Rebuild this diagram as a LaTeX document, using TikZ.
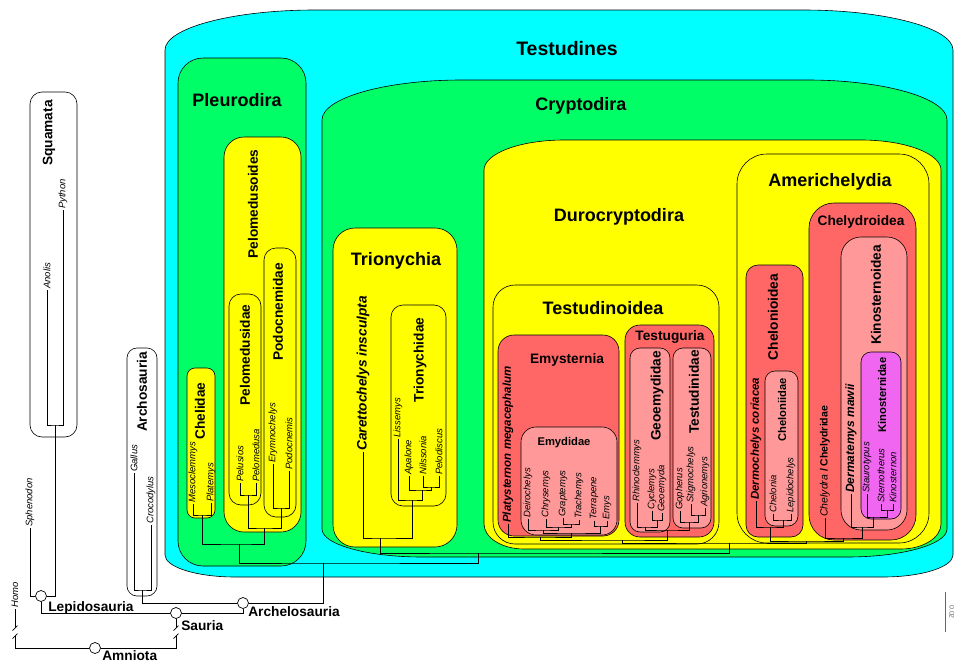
\documentclass[tikz,border=0pt]{standalone}
\usepackage{fontspec}
\setmainfont{Liberation Sans}
\usetikzlibrary{positioning}

\definecolor{testcyan}{RGB}{0,255,255}
\definecolor{cladegreen}{RGB}{0,255,102}
\definecolor{cladeyellow}{RGB}{255,255,0}
\definecolor{cladered}{RGB}{255,102,102}
\definecolor{cladepink}{RGB}{255,153,153}
\definecolor{clademagenta}{RGB}{240,102,240}

% box with elliptic corners: fill, x1, y1, x2, y2, rx ry (top), rx ry (bottom)
\newcommand\ovalclade[9]{%
  \draw[clade, fill=#1] (#2,{#3+#7}) .. controls (#2,{#3+0.45*#7}) and ({#2+0.45*#6},#3) .. ({#2+#6},#3)
    -- ({#4-#6},#3) .. controls ({#4-0.45*#6},#3) and (#4,{#3+0.45*#7}) .. (#4,{#3+#7})
    -- (#4,{#5-#9}) .. controls (#4,{#5-0.45*#9}) and ({#4-0.45*#8},#5) .. ({#4-#8},#5)
    -- ({#2+#8},#5) .. controls ({#2+0.45*#8},#5) and (#2,{#5-0.45*#9}) .. (#2,{#5-#9}) -- cycle;}
% broken branch
\newcommand\branchbreak[2]{%
  \fill[white] ({#1-3},{#2-4}) rectangle ({#1+3},{#2+4});
  \draw[branch] ({#1-2.5},{#2-1.5}) -- ({#1+2.5},{#2-6.5});
  \draw[branch] ({#1-2.5},{#2+6.5}) -- ({#1+2.5},{#2+1.5});}

\begin{document}
\begin{tikzpicture}[x=1pt, y=-1pt,
    clade/.style={draw=black, line width=0.6pt},
    branch/.style={draw=black, line width=0.7pt},
    hub/.style={circle, draw=black, fill=white, line width=0.7pt, minimum size=11pt, inner sep=0pt},
    big/.style={font=\fontsize{18}{20}\selectfont\bfseries},
    mid/.style={font=\fontsize{13.7}{15}\selectfont\bfseries},
    small/.style={font=\fontsize{11.2}{13}\selectfont\bfseries},
    vert/.style={rotate=90},
    tip/.style={font=\fontsize{9.5}{10}\selectfont\itshape, rotate=90, anchor=west, inner sep=1pt},
    taxon/.style={font=\fontsize{11.5}{13}\selectfont\bfseries\itshape, rotate=90, anchor=west, inner sep=1pt},
]
\useasboundingbox (0,0) rectangle (954,664);

% outgroups
\draw[clade, fill=white, rounded corners=12pt] (30,92) rectangle (77,437);
\draw[clade, fill=white, rounded corners=10pt] (127,348) rectangle (157,596);

% Testudines
\ovalclade{testcyan}{165}{10}{953}{577}{150}{40}{70}{22}
\draw[clade, fill=cladegreen, rounded corners=25pt] (178,58) rectangle (306,566);
\draw[clade, fill=cladeyellow, rounded corners=8pt] (187,368) rectangle (215,518);
\draw[clade, fill=cladeyellow, rounded corners=20pt] (224,137) rectangle (301,532);
\draw[clade, fill=cladeyellow, rounded corners=12pt] (229,294) rectangle (261,505);
\draw[clade, fill=cladeyellow, rounded corners=12pt] (264,248) rectangle (296,517);
\ovalclade{cladegreen}{322}{80}{947}{557}{140}{40}{100}{28}
\draw[clade, fill=cladeyellow, rounded corners=22pt] (333,228) rectangle (457,547);
\draw[clade, fill=cladeyellow, rounded corners=12pt] (391,305) rectangle (446,506);
\ovalclade{cladeyellow}{484}{140}{941}{549}{80}{30}{40}{25}
\draw[clade, fill=cladeyellow, rounded corners=22pt] (493,285) rectangle (719,544);
\draw[clade, fill=cladered, rounded corners=16pt] (498,335) rectangle (619,536);
\draw[clade, fill=cladepink, rounded corners=15pt] (521,427) rectangle (617,535);
\draw[clade, fill=cladered, rounded corners=15pt] (625,325) rectangle (714,537);
\draw[clade, fill=cladepink, rounded corners=10pt] (630,348) rectangle (670,532);
\draw[clade, fill=cladepink, rounded corners=10pt] (673,348) rectangle (711,528);
\draw[clade, fill=cladeyellow, rounded corners=30pt] (737,154) rectangle (929,543);
\draw[clade, fill=cladered, rounded corners=12pt] (746,265) rectangle (803,537);
\draw[clade, fill=cladepink, rounded corners=10pt] (765,371) rectangle (798,526);
\draw[clade, fill=cladered, rounded corners=25pt] (809,203) rectangle (916,540);
\draw[clade, fill=cladepink, rounded corners=20pt] (841,237) rectangle (907,530);
\draw[clade, fill=clademagenta, rounded corners=10pt] (861,352) rectangle (901,519);

% clade names
\node[font=\fontsize{19.5}{21}\selectfont\bfseries] (testudines) at (567,49) {Testudines};
\node[big] (pleurodira) at (237,100) {Pleurodira};
\node[big] (cryptodira) at (581,106) {Cryptodira};
\node[big] (trionychia) at (396,261) {Trionychia};
\node[big] (durocryptodira) at (619,217) {Durocryptodira};
\node[big] (testudinoidea) at (603,308) {Testudinoidea};
\node[big] (americhelydia) at (830,182) {Americhelydia};
\node[mid] (emysternia) at (567,360) {Emysternia};
\node[mid] (testuguria) at (670,337) {Testuguria};
\node[mid] (chelydroidea) at (861,222) {Chelydroidea};
\node[small] (emydidae) at (564,443) {Emydidae};
\node[mid, vert] (squamata) at (49,133) {Squamata};
\node[mid, vert] (archosauria) at (142,392) {Archosauria};
\node[mid, vert] (chelidae) at (200,411) {Chelidae};
\node[mid, vert] (pelomedusoides) at (253,204) {Pelomedusoides};
\node[mid, vert] (pelomedusidae) at (245,355) {Pelomedusidae};
\node[mid, vert] (podocnemidae) at (278,312) {Podocnemidae};
\node[mid, vert] (trionychidae) at (420,360) {Trionychidae};
\node[mid, vert] (geoemydidae) at (657,396) {Geoemydidae};
\node[mid, vert] (testudinidae) at (694,392) {Testudinidae};
\node[mid, vert] (chelonioidea) at (773,317) {Chelonioidea};
\node[small, vert] (cheloniidae) at (782,410) {Cheloniidae};
\node[mid, vert] (kinosternoidea) at (876,295) {Kinosternoidea};
\node[small, vert] (kinosternidae) at (882,395) {Kinosternidae};

% tips
\node[tip] (pyth) at (63,210) {Python};
\node[tip] (anol) at (47,290) {Anolis};
\node[tip] (sphe) at (30,528) {Sphenodon};
\node[tip] (homo) at (15,609) {Homo};
\node[tip] (gall) at (134,473) {Gallus};
\node[tip] (croc) at (151,525) {Crocodylus};
\node[tip] (meso) at (193,504) {Mesoclemmys};
\node[tip] (plat) at (211,503) {Platemys};
\node[tip] (pelu) at (240,483) {Pelusios};
\node[tip] (pelo) at (256,483) {Pelomedusa};
\node[tip] (erym) at (273,464) {Erymnochelys};
\node[tip] (podo) at (289,471) {Podocnemis};
\node[taxon, font=\fontsize{13.7}{15}\selectfont\bfseries\itshape] (care) at (363,452) {Carettochelys insculpta};
\node[tip] (liss) at (398,439) {Lissemys};
\node[tip] (apal) at (409,476) {Apalone};
\node[tip] (nils) at (423,476) {Nilssonia};
\node[tip] (peld) at (439,476) {Pelodiscus};
\node[taxon] (plas) at (508,524) {Platysternon megacephalum};
\node[tip] (deir) at (528,519) {Deirochelys};
\node[tip] (chry) at (546,519) {Chrysemys};
\node[tip] (grap) at (563,518) {Graptemys};
\node[tip] (trac) at (579,520) {Trachemys};
\node[tip] (terr) at (594,521) {Terrapene};
\node[tip] (emys) at (607,521) {Emys};
\node[tip] (rhin) at (637,503) {Rhinoclemmys};
\node[tip] (cycl) at (652,511) {Cyclemys};
\node[tip] (geoe) at (662,513) {Geoemyda};
\node[tip] (goph) at (680,511) {Gopherus};
\node[tip] (stig) at (691,504) {Stigmochelys};
\node[tip] (agri) at (705,508) {Agrionemys};
\node[taxon] (derm) at (756,501) {Dermochelys coriacea};
\node[tip] (chel) at (773,514) {Chelonia};
\node[tip] (lepd) at (791,514) {Lepidochelys};
\node[taxon, font=\fontsize{10.5}{12}\selectfont\bfseries] (chyd) at (825,518) {{\mdseries\itshape Chelydra} / Chelydridae};
\node[taxon, font=\fontsize{12}{13}\selectfont\bfseries\itshape] (dmat) at (851,494) {Dermatemys mawii};
\node[tip] (stau) at (867,494) {Staurotypus};
\node[tip] (ster) at (881,504) {Sternotherus};
\node[tip] (kino) at (893,504) {Kinosternon};

% inner nodes
\node[hub] (nlep) at (41,596) {};
\node[hub] (narl) at (243,603) {};
\node[hub] (nsau) at (176,613) {};
\node[hub] (namn) at (95,648) {};
\coordinate (nsqu) at (55,425);
\coordinate (narc) at (142,590);
\coordinate (nche) at (202,515);
\coordinate (npld) at (248,495);
\coordinate (npod) at (281,508);
\coordinate (npls) at (264,528);
\coordinate (nple) at (239,544);
\coordinate (ntes) at (323,563);
\coordinate (ncry) at (478,553);
\coordinate (ntr2) at (431,487);
\coordinate (ntr1) at (422,490);
\coordinate (ntrd) at (412,500);
\coordinate (ntri) at (380,538);
\coordinate (nduro) at (729,543);
\coordinate (nem4) at (571,524);
\coordinate (nem3) at (558,527);
\coordinate (nem2) at (543,530);
\coordinate (nem1) at (600,526);
\coordinate (nemd) at (571,533);
\coordinate (nemt) at (540,537);
\coordinate (ngeo1) at (657,520);
\coordinate (ngeo) at (645,527);
\coordinate (ntdd1) at (698,515);
\coordinate (ntdd) at (689,522);
\coordinate (ntgu) at (667,530);
\coordinate (ntdn) at (622,540);
\coordinate (nchn) at (783,520);
\coordinate (nchd) at (770,527);
\coordinate (nkin1) at (887,510);
\coordinate (nkid) at (873,517);
\coordinate (nkin) at (862,527);
\coordinate (nchy) at (843,538);
\coordinate (name) at (806,541);

% branches
\draw[branch] (anol.west) |- (nsqu) -| (pyth.west);
\draw[branch] (sphe.west) |- (nlep) -| (nsqu);
\draw[branch] (gall.west) |- (narc) -| (croc.west);
\draw[branch] (narc) |- (narl) -| (ntes);
\draw[branch] (nlep) |- (nsau) -| (narl);
\draw[branch] (homo.west) |- (namn) -| (nsau);
\draw[branch] (meso.west) |- (nche) -| (plat.west);
\draw[branch] (pelu.west) |- (npld) -| (pelo.west);
\draw[branch] (erym.west) |- (npod) -| (podo.west);
\draw[branch] (npld) |- (npls) -| (npod);
\draw[branch] (nche) |- (nple) -| (npls);
\draw[branch] (nple) |- (ntes) -| (ncry);
\draw[branch] (nils.west) |- (ntr2) -| (peld.west);
\draw[branch] (apal.west) |- (ntr1) -| (ntr2);
\draw[branch] (liss.west) |- (ntrd) -| (ntr1);
\draw[branch] (care.west) |- (ntri) -| (ntrd);
\draw[branch] (ntri) |- (ncry) -| (nduro);
\draw[branch] (grap.west) |- (nem4) -| (trac.west);
\draw[branch] (chry.west) |- (nem3) -| (nem4);
\draw[branch] (deir.west) |- (nem2) -| (nem3);
\draw[branch] (terr.west) |- (nem1) -| (emys.west);
\draw[branch] (nem2) |- (nemd) -| (nem1);
\draw[branch] (plas.west) |- (nemt) -| (nemd);
\draw[branch] (cycl.west) |- (ngeo1) -| (geoe.west);
\draw[branch] (rhin.west) |- (ngeo) -| (ngeo1);
\draw[branch] (stig.west) |- (ntdd1) -| (agri.west);
\draw[branch] (goph.west) |- (ntdd) -| (ntdd1);
\draw[branch] (ngeo) |- (ntgu) -| (ntdd);
\draw[branch] (nemt) |- (ntdn) -| (ntgu);
\draw[branch] (chel.west) |- (nchn) -| (lepd.west);
\draw[branch] (derm.west) |- (nchd) -| (nchn);
\draw[branch] (ster.west) |- (nkin1) -| (kino.west);
\draw[branch] (stau.west) |- (nkid) -| (nkin1);
\draw[branch] (dmat.west) |- (nkin) -| (nkid);
\draw[branch] (chyd.west) |- (nchy) -| (nkin);
\draw[branch] (nchd) |- (name) -| (nchy);
\draw[branch] (ntdn) |- (nduro) -| (name);
\branchbreak{15}{632}
\branchbreak{176}{632}

% node names
\node[mid, inner sep=0pt, below right=1pt and 3pt of nlep] (lepidosauria) {Lepidosauria};
\node[mid, inner sep=0pt, below right=-1pt and 1pt of narl] (archelosauria) {Archelosauria};
\node[mid, inner sep=0pt, below right=3pt and 1pt of nsau] (sauria) {Sauria};
\node[mid, inner sep=0pt, below right=-1.5pt and 3pt of namn] (amniota) {Amniota};

% scale
\draw[branch, draw=black!60] (945,592) -- (945,632);
\node[font=\fontsize{7}{8}\selectfont, text=black!60, rotate=-90] (scale) at (952,612) {0.02};
\end{tikzpicture}
\end{document}
